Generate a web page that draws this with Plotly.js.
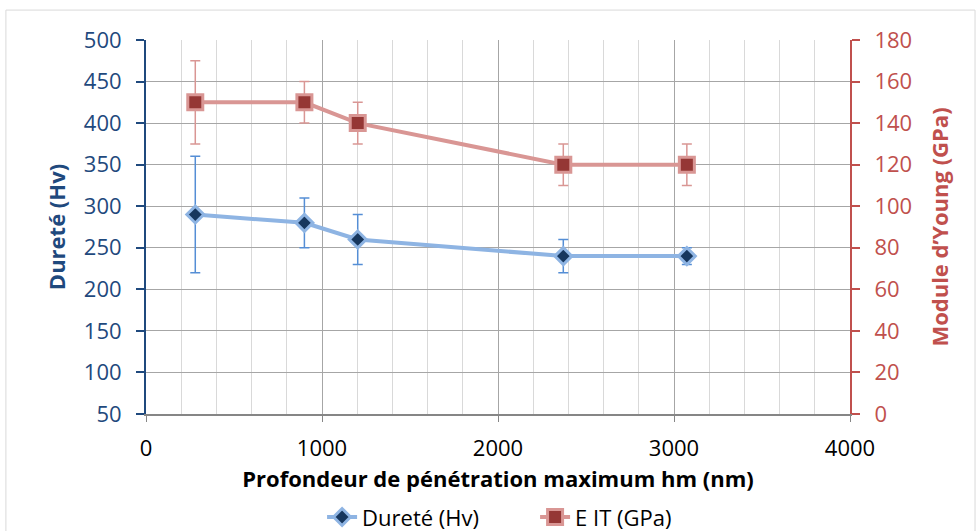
<!DOCTYPE html>
<html><head><meta charset="utf-8">
<script src="https://cdn.plot.ly/plotly-3.0.1.min.js"></script>
<style>html,body{margin:0;padding:0;background:#fff;}#chart{width:976px;height:531px;}</style>
</head><body><div id="chart"></div>
<script>
const depth = [280, 900, 1203, 2371, 3073];
const durete = [290, 280, 260, 240, 240];
const dureteErr = [70, 30, 30, 20, 10];
const module = [150, 150, 140, 120, 120];
const moduleErr = [20, 10, 10, 10, 10];

const font = "'Open Sans', sans-serif";

const traces = [
  {x: depth, y: durete, name: 'Dureté (Hv)', type: 'scatter', mode: 'lines+markers', yaxis: 'y',
   line: {color: '#8EB4E3', width: 4},
   marker: {symbol: 'diamond', size: 13, color: '#17375E', line: {color: '#8EB4E3', width: 3}},
   error_y: {type: 'data', array: dureteErr, visible: true, color: '#558ED5', thickness: 1.5, width: 5}},
  {x: depth, y: module, name: 'E IT (GPa)', type: 'scatter', mode: 'lines+markers', yaxis: 'y2',
   line: {color: '#D99694', width: 4},
   marker: {symbol: 'square', size: 15, color: '#953735', line: {color: '#D99694', width: 3}},
   error_y: {type: 'data', array: moduleErr, visible: true, color: '#D99694', thickness: 1.5, width: 5}}
];

const layout = {
  width: 976, height: 531,
  margin: {l: 146, r: 126, t: 40, b: 117},
  paper_bgcolor: '#fff', plot_bgcolor: '#fff',
  font: {family: font, size: 22, color: '#000'},
  showlegend: true,
  legend: {orientation: 'h', x: 0.33, xanchor: 'left', xref: 'container', y: 0.026, yanchor: 'middle', yref: 'container',
           font: {size: 22}, entrywidth: 168, entrywidthmode: 'pixels'},
  xaxis: {range: [0, 4000], dtick: 1000, tick0: 0, showgrid: true, gridcolor: '#A6A6A6', gridwidth: 1,
          minor: {dtick: 200, showgrid: true, gridcolor: '#D9D9D9', gridwidth: 1},
          showline: true, linecolor: '#868686', linewidth: 1.5, ticks: 'outside', tickcolor: '#868686', ticklen: 6,
          ticklabelstandoff: 8,
          zeroline: false, automargin: false, tickfont: {size: 22, color: '#000'},
          title: {text: '<b>Profondeur de pénétration maximum hm (nm)</b>', font: {size: 22, color: '#000'}, standoff: 10}},
  yaxis: {range: [50, 500], dtick: 50, tick0: 50, showgrid: true, gridcolor: '#A6A6A6', gridwidth: 1,
          showline: true, linecolor: '#1F497D', linewidth: 2, ticks: 'outside', tickcolor: '#1F497D', ticklen: 8, tickwidth: 2,
          ticklabelstandoff: 10,
          zeroline: false, automargin: false, tickfont: {size: 22, color: '#1F497D'},
          title: {text: '<b>Dureté (Hv)</b>', font: {size: 22, color: '#1F497D'}, standoff: 12}},
  yaxis2: {range: [0, 180], dtick: 20, tick0: 0, overlaying: 'y', side: 'right', showgrid: false,
          showline: true, linecolor: '#C0504D', linewidth: 2, ticks: 'outside', tickcolor: '#C0504D', ticklen: 8, tickwidth: 2,
          ticklabelstandoff: 10,
          zeroline: false, automargin: false, tickfont: {size: 22, color: '#C0504D'},
          title: {text: '<b>Module d’Young (GPa)</b>', font: {size: 22, color: '#C0504D'}, standoff: 21}},
  shapes: [{type: 'rect', xref: 'paper', yref: 'paper', x0: -0.199, x1: 1.1776, y0: -0.33, y1: 1.080,
            line: {color: '#D9D9D9', width: 1}, layer: 'below'}]
};

Plotly.newPlot('chart', traces, layout, {displayModeBar: false, responsive: false});
</script></body></html>
